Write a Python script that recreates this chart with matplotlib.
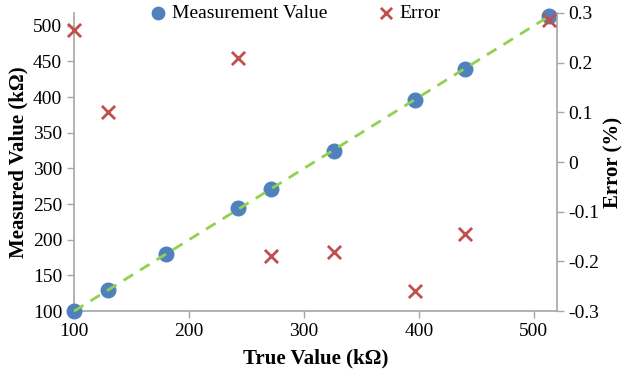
import matplotlib
matplotlib.use('Agg')
import matplotlib.pyplot as plt
from matplotlib.ticker import FuncFormatter

# data
true_vals = [100, 130, 180, 243, 271, 326, 397, 440, 513]
measured_vals = [100, 130, 180, 244, 271, 325, 396, 440, 513]
err_x = [100, 130, 243, 271, 326, 397, 440, 513]
err_vals = [0.265, 0.10, 0.21, -0.19, -0.18, -0.26, -0.145, 0.285]
trend_x = [100, 513]
trend_y = [100, 513]

plt.rcParams['font.family'] = ['Liberation Serif', 'DejaVu Serif']

blue = '#4F81BD'
red = '#C0504D'
green = '#92D050'
gray = '#A6A6A6'

fig = plt.figure(figsize=(6.27, 3.79), dpi=100)
ax = fig.add_axes([0.118, 0.179, 0.770, 0.787])
ax2 = ax.twinx()

ax.scatter(true_vals, measured_vals, s=110, color=blue, zorder=3, clip_on=False,
           label='Measurement Value')
ax.plot(trend_x, trend_y, '--', color=green, lw=2, dashes=(4, 3), zorder=4, clip_on=False)
ax2.scatter(err_x, err_vals, s=90, marker='x', color=red, linewidths=2, zorder=5,
            clip_on=False, label='Error')

ax.set_xlim(100, 520)
ax.set_ylim(100, 518)
ax2.set_ylim(-0.3, 0.3)
ax.set_xticks([100, 200, 300, 400, 500])
ax.set_yticks(range(100, 501, 50))
ax2.set_yticks([-0.3, -0.2, -0.1, 0, 0.1, 0.2, 0.3])
ax2.yaxis.set_major_formatter(FuncFormatter(lambda v, p: '0' if abs(v) < 1e-9 else '%.1f' % v))

for a in (ax, ax2):
    for s in a.spines.values():
        s.set_visible(False)
    a.tick_params(colors=gray, labelcolor='black', labelsize=14, length=5, width=1)
ax.spines['left'].set_visible(True)
ax.spines['bottom'].set_visible(True)
ax2.spines['right'].set_visible(True)
for s in (ax.spines['left'], ax.spines['bottom'], ax2.spines['right']):
    s.set_color(gray)
    s.set_linewidth(1.2)

ax.set_xlabel('True Value (kΩ)', fontsize=15, fontweight='bold', labelpad=6)
ax.set_ylabel('Measured Value (kΩ)', fontsize=15, fontweight='bold', labelpad=3)
ax2.set_ylabel('Error (%)', fontsize=15, fontweight='bold', labelpad=3)

h1, l1 = ax.get_legend_handles_labels()
h2, l2 = ax2.get_legend_handles_labels()
fig.legend(h1 + h2, l1 + l2, loc='center', bbox_to_anchor=(0.462, 0.965), ncol=2,
           frameon=False, fontsize=14, handletextpad=-0.3, columnspacing=2.0,
           borderaxespad=0, markerscale=0.85)

fig.savefig('out.png', dpi=100)
